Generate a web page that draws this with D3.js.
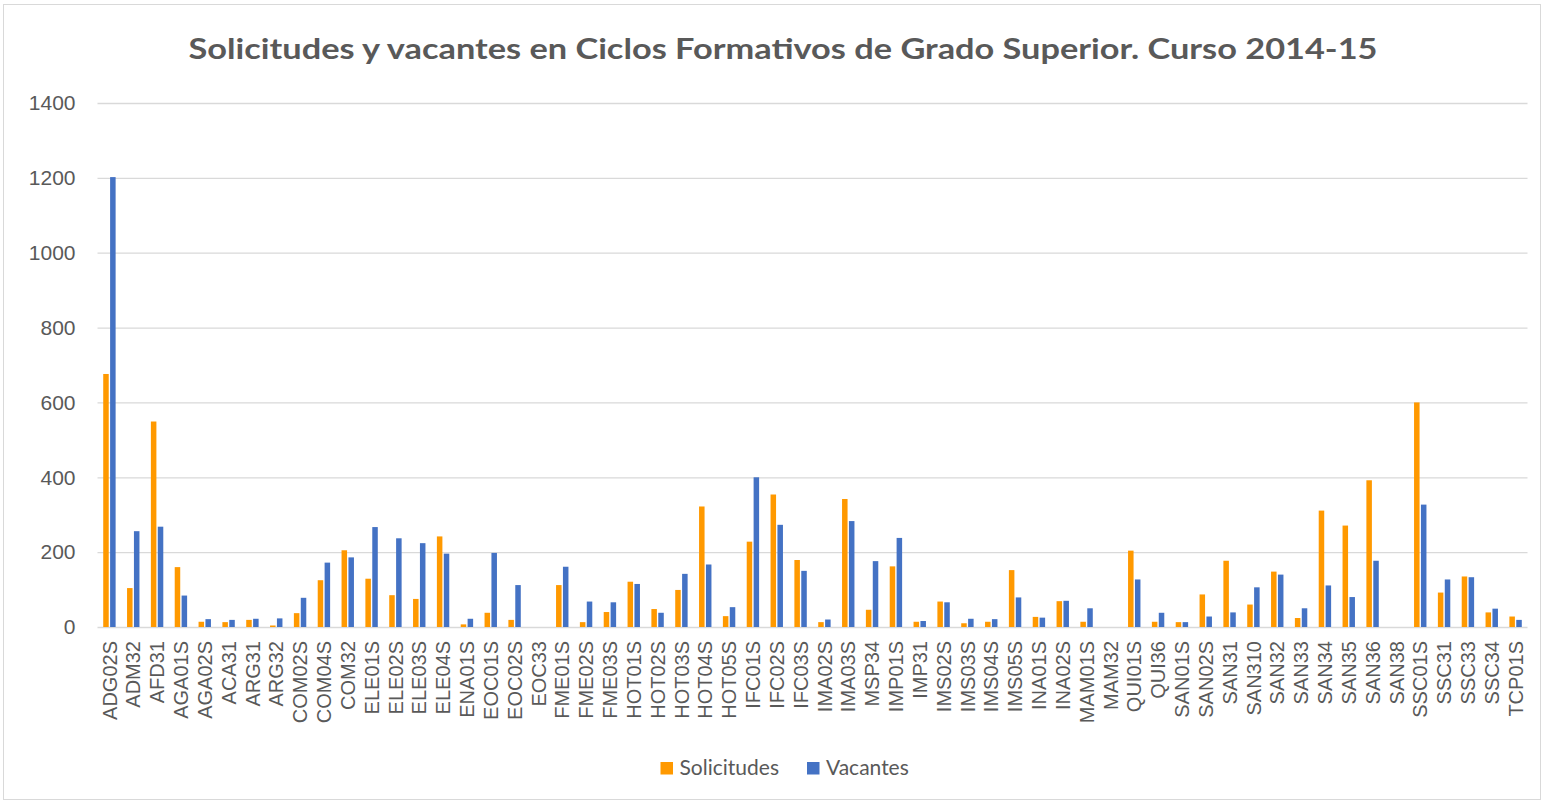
<!DOCTYPE html>
<html>
<head>
<meta charset="utf-8">
<script src="https://cdn.jsdelivr.net/npm/d3@7"></script>
<style>
  body { margin: 0; background: #fff; }
  svg { display: block; }
  .grid line { stroke: #d9d9d9; stroke-width: 1.3; }
  .ylab text { font-family: "Liberation Sans", Arial, sans-serif; font-size: 21px; fill: #595959; }
  .xlab text { font-family: "Liberation Sans", Arial, sans-serif; font-size: 20px; fill: #595959; }
</style>
</head>
<body>
<svg width="1545" height="803"></svg>
<script>
var categories = ["ADG02S","ADM32","AFD31","AGA01S","AGA02S","ACA31","ARG31","ARG32","COM02S","COM04S",
  "COM32","ELE01S","ELE02S","ELE03S","ELE04S","ENA01S","EOC01S","EOC02S","EOC33","FME01S",
  "FME02S","FME03S","HOT01S","HOT02S","HOT03S","HOT04S","HOT05S","IFC01S","IFC02S","IFC03S",
  "IMA02S","IMA03S","MSP34","IMP01S","IMP31","IMS02S","IMS03S","IMS04S","IMS05S","INA01S",
  "INA02S","MAM01S","MAM32","QUI01S","QUI36","SAN01S","SAN02S","SAN31","SAN310","SAN32",
  "SAN33","SAN34","SAN35","SAN36","SAN38","SSC01S","SSC31","SSC33","SSC34","TCP01S"];

var solicitudes = [676,104,549,160,14,13,19,4,37,125,
  205,129,85,75,242,7,38,19,0,112,
  13,40,121,48,99,322,29,228,354,179,
  13,342,46,162,14,68,10,14,152,27,
  69,14,0,204,14,13,87,177,60,148,
  24,311,271,392,0,600,92,135,39,28];

var vacantes = [1202,256,268,84,21,19,22,23,78,172,
  186,267,237,224,196,22,198,112,0,161,
  68,66,115,38,142,167,53,400,273,150,
  20,283,176,238,16,66,22,21,79,25,
  70,50,0,127,38,13,28,39,106,140,
  50,111,80,177,0,327,127,133,49,19];

var yTicks = [0,200,400,600,800,1000,1200,1400];
var seriesNames = ["Solicitudes","Vacantes"];
var seriesColors = ["#ff9900","#4472c4"];

var svg = d3.select("svg");

// outer frame
svg.append("rect")
  .attr("x", 3.5).attr("y", 4.5).attr("width", 1537).attr("height", 795)
  .attr("fill", "#fff").attr("stroke", "#d9d9d9").attr("stroke-width", 1);

var plotLeft = 97.5, plotRight = 1527.5, plotTop = 103, plotBottom = 627;

var x = d3.scaleBand().domain(categories).range([plotLeft, plotRight]);
var xs = d3.scaleBand().domain(seriesNames).range([0, x.bandwidth()])
  .paddingInner(0.2).paddingOuter(0.83);
var y = d3.scaleLinear().domain([0, 1400]).range([plotBottom, plotTop]);

// title
svg.append("text")
  .attr("x", 783).attr("y", 59)
  .attr("text-anchor", "middle")
  .attr("textLength", 1189).attr("lengthAdjust", "spacingAndGlyphs")
  .style("font-family", "Lato, 'Open Sans', sans-serif")
  .style("font-weight", "bold").style("font-size", "29px").style("fill", "#595959")
  .text("Solicitudes y vacantes en Ciclos Formativos de Grado Superior. Curso 2014-15");

// gridlines + y labels
var gy = svg.append("g").attr("class", "grid ylab")
  .attr("transform", "translate(" + plotLeft + ",0)")
  .call(d3.axisLeft(y).tickValues(yTicks).tickFormat(d3.format("d"))
    .tickSize(-(plotRight - plotLeft)).tickPadding(22));
gy.select(".domain").remove();

// bars
var groups = svg.append("g").selectAll("g")
  .data(categories)
  .enter().append("g")
  .attr("transform", function(d) { return "translate(" + x(d) + ",0)"; });

groups.selectAll("rect")
  .data(function(d, i) {
    return [
      { key: "Solicitudes", value: solicitudes[i] },
      { key: "Vacantes", value: vacantes[i] }
    ].filter(function(e) { return e.value > 0; });
  })
  .enter().append("rect")
  .attr("x", function(d) { return xs(d.key); })
  .attr("width", xs.bandwidth())
  .attr("y", function(d) { return y(d.value); })
  .attr("height", function(d) { return y(0) - y(d.value); })
  .attr("fill", function(d) { return seriesColors[seriesNames.indexOf(d.key)]; });

// x labels
var gx = svg.append("g").attr("class", "xlab")
  .attr("transform", "translate(0," + plotBottom + ")")
  .call(d3.axisBottom(x).tickSize(0));
gx.select(".domain").remove();
gx.selectAll("text")
  .attr("transform", "rotate(-90)")
  .attr("x", -14).attr("y", 0).attr("dy", "0.36em")
  .style("text-anchor", "end");

// legend
var legendX = [660.5, 807];
var legend = svg.append("g").selectAll("g")
  .data(seriesNames)
  .enter().append("g")
  .attr("transform", function(d, i) { return "translate(" + legendX[i] + ",762)"; });
legend.append("rect")
  .attr("width", 12.5).attr("height", 12.5)
  .attr("fill", function(d, i) { return seriesColors[i]; });
legend.append("text")
  .attr("x", 19).attr("y", 13)
  .style("font-family", "Lato, 'Open Sans', sans-serif")
  .style("font-size", "21px").style("fill", "#595959")
  .text(function(d) { return d; });
</script>
</body>
</html>
